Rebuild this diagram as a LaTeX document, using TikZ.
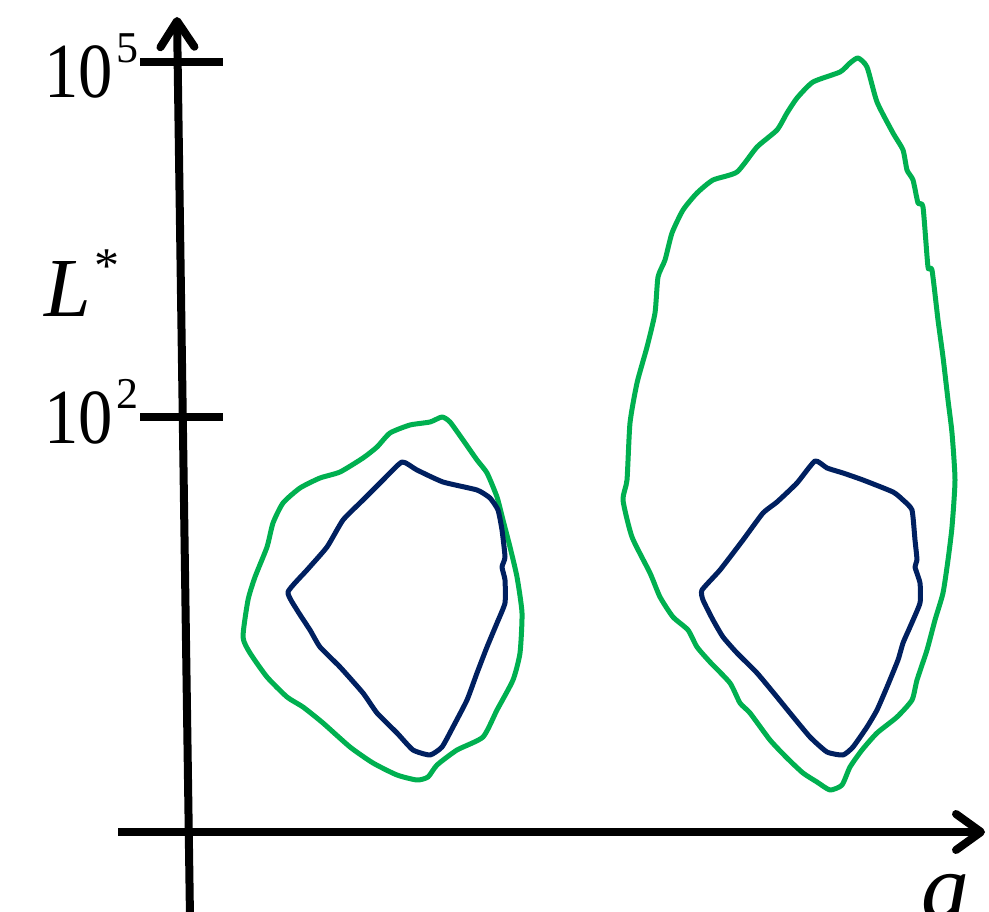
\documentclass[tikz,border=0pt]{standalone}
\usepackage{fontspec}
\setmainfont{Liberation Serif}
\usetikzlibrary{arrows.meta}
\definecolor{blobgreen}{HTML}{00B050}
\definecolor{blobblue}{HTML}{002060}
\tikzset{
  axisline/.style={line width=8pt, black},
  tickline/.style={line width=7.5pt, black},
  greenblob/.style={draw=blobgreen, line width=5pt, line join=round},
  blueblob/.style={draw=blobblue, line width=5pt, line join=round},
  lbl/.style={anchor=base west, inner sep=0pt, outer sep=0pt},
}
\begin{document}
\begin{tikzpicture}[x=1pt,y=-1pt]
\useasboundingbox (0,0) rectangle (989,912);
\fill[white] (0,0) rectangle (989,912);

% axes
\coordinate (ybot) at (190,918);
\coordinate (ytop) at (177,17);
\coordinate (xleft) at (118,832);
\coordinate (xright) at (985,832);
\draw[axisline, -{Straight Barb[length=26pt,width=34pt,line cap=round,line join=round]}] (ybot) -- (ytop);
\draw[axisline, -{Straight Barb[length=25pt,width=36pt,line cap=round,line join=round]}] (xleft) -- (xright);

% ticks
\coordinate (t5a) at (140,62);
\coordinate (t5b) at (223,62);
\coordinate (t2a) at (140,417);
\coordinate (t2b) at (223,417);
\draw[tickline] (t5a) -- (t5b);
\draw[tickline] (t2a) -- (t2b);

% labels
\node[lbl] (ten5) at (44,98) {\fontsize{78}{78}\selectfont\scalebox{0.88}[1]{10}};
\node[lbl] (sup5) at (116,63) {\fontsize{44}{44}\selectfont 5};
\node[lbl] (ten2) at (44,443) {\fontsize{78}{78}\selectfont\scalebox{0.88}[1]{10}};
\node[lbl] (sup2) at (116,408) {\fontsize{44}{44}\selectfont 2};
\node[lbl] (Lsym) at (44,317) {\fontsize{84}{84}\selectfont\itshape L};
\node[lbl] (Lstar) at (94,283) {\fontsize{50}{50}\selectfont *};
\node[lbl] (alab) at (921,919) {\fontsize{96}{96}\selectfont\itshape a};

% left green blob
\draw[greenblob] plot[smooth cycle, tension=0.35] coordinates {
(442,417) (430,422) (410,425) (390,433) (377,447) (363,458) (340,472)
(320,478) (300,488) (283,503) (273,523) (267,547) (255,577) (248,600)
(243,637) (250,653) (267,677) (287,697) (303,707) (323,723) (350,747)
(373,763) (397,775) (417,780) (428,777) (437,765) (457,750) (483,737)
(497,710) (513,680) (520,653) (522,613) (517,577) (510,547) (503,520)
(497,497) (487,473) (477,460) (463,440) (450,422)};

% left blue blob
\draw[blueblob] plot[smooth cycle, tension=0.3] coordinates {
(402,462) (417,470) (443,482) (477,490) (490,498) (498,510) (502,530)
(505,557) (502,567) (505,580) (505,603) (497,623) (487,647) (477,673)
(467,700) (453,727) (442,747) (430,755) (413,750) (397,733) (377,713)
(363,693) (340,667) (320,647) (310,630) (297,610) (288,592) (307,570)
(327,547) (343,520) (363,500) (383,480)};

% right green blob
\draw[greenblob] plot[smooth cycle, tension=0.35] coordinates {
(858,58) (850,63) (840,72) (813,82) (797,98) (787,113) (777,130)
(757,147) (737,172) (713,180) (697,193) (683,210) (672,233) (665,260)
(658,277) (655,313) (647,347) (637,383) (630,423) (627,480) (623,500)
(632,537) (650,573) (660,597) (673,617) (688,630) (697,647) (710,662)
(730,683) (740,703) (750,713) (770,740) (787,758) (803,773) (817,782)
(830,790) (842,785) (850,767) (862,750) (877,733) (897,717) (912,700)
(917,680) (927,650) (935,620) (943,593) (948,560) (952,527) (955,480)
(952,433) (948,400) (943,357) (938,320) (932,270) (928,267) (923,207)
(918,203) (913,180) (907,170) (903,150) (893,133) (877,102) (867,67)};

% right blue blob
\draw[blueblob] plot[smooth cycle, tension=0.3] coordinates {
(815,461) (827,468) (843,473) (863,480) (893,492) (903,500) (912,510)
(915,540) (917,560) (915,567) (920,583) (920,603) (910,627) (903,643)
(898,660) (887,687) (877,710) (867,727) (853,747) (843,755) (827,752)
(810,737) (790,713) (777,697) (757,673) (737,653) (723,637) (713,620)
(703,600) (702,590) (720,570) (743,540) (763,513) (777,502) (797,483)};
\end{tikzpicture}
\end{document}
